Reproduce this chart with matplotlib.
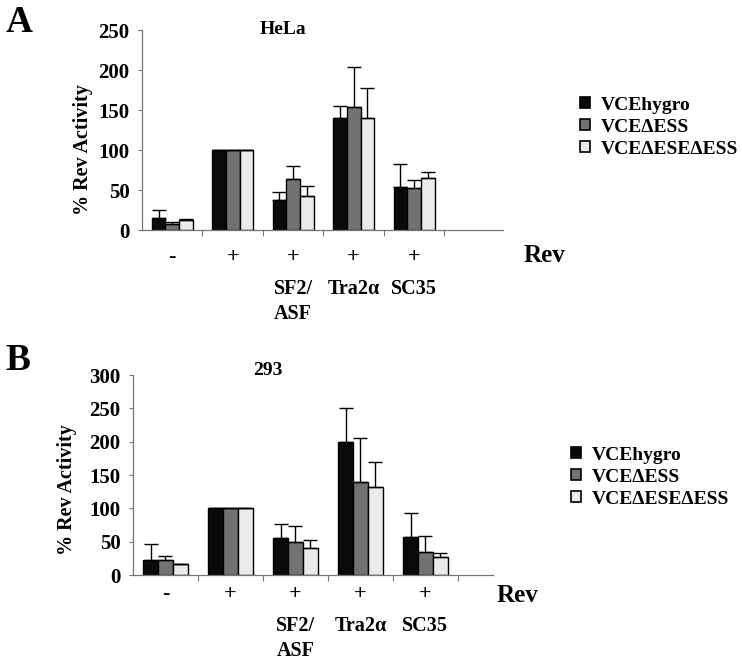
import matplotlib.pyplot as plt
from matplotlib.patches import Patch

plt.rcParams['font.family'] = ['Liberation Serif', 'DejaVu Serif']
plt.rcParams['font.weight'] = 'bold'

# data
categories = ['-', '+', '+', '+', '+']
factors = ['', '', 'SF2/\nASF', 'Tra2\u03b1', 'SC35']
series = ['VCEhygro', 'VCE\u0394ESS', 'VCE\u0394ESE\u0394ESS']
colors = ['#0a0a0a', '#727272', '#ebebeb']

hela_hygro = [15, 100, 38, 140, 54]
hela_dess = [8, 100, 64, 154, 53]
hela_desedess = [13, 100, 43, 140, 65]
hela_hygro_err = [10, 0, 9, 15, 28]
hela_dess_err = [2, 0, 16, 50, 10]
hela_desedess_err = [1, 0, 12, 38, 8]

c293_hygro = [23, 100, 56, 200, 57]
c293_dess = [23, 100, 50, 139, 34]
c293_desedess = [16, 100, 40, 132, 27]
c293_hygro_err = [24, 0, 21, 50, 36]
c293_dess_err = [6, 0, 24, 67, 24]
c293_desedess_err = [0, 0, 12, 38, 6]

fig = plt.figure(figsize=(7.42, 6.64), dpi=100)


def panel(rect, vals, errs, ymax, title, title_xy, letter_xy, letter, rev_xy, xmax,
          legend_xy, ylabel_xy, sign_off, factor_off):
    ax = fig.add_axes(rect)
    w = 0.227
    x = range(len(categories))
    for i in range(3):
        xs = [k + (i - 1) * w for k in x]
        ax.bar(xs, vals[i], width=w, color=colors[i], edgecolor='black', linewidth=1.0, zorder=2)
        lo = [0] * len(errs[i])
        ax.errorbar(xs, vals[i], yerr=[lo, errs[i]], fmt='none', ecolor='black',
                    elinewidth=1.0, capsize=5, capthick=1.0, zorder=3)
    ax.set_xlim(-0.5, xmax)
    ax.set_ylim(0, ymax)
    ax.set_yticks(range(0, ymax + 1, 50))
    ax.tick_params(axis='y', labelsize=15, length=3, color='#777777', pad=6)
    ax.set_xticks([k + 0.5 for k in range(len(categories))])
    ax.set_xticklabels([])
    ax.tick_params(axis='x', length=4, color='#777777', direction='out')
    for s in ['top', 'right']:
        ax.spines[s].set_visible(False)
    for s in ['left', 'bottom']:
        ax.spines[s].set_color('#777777')
        ax.spines[s].set_linewidth(0.9)
    ax.set_ylabel('% Rev Activity', fontsize=14.5, fontweight='bold')
    ax.yaxis.set_label_coords(*ylabel_xy)
    for k in x:
        ax.annotate(categories[k], xy=(k, 0), xycoords=('data', 'axes fraction'),
                    xytext=(0, -sign_off), textcoords='offset pixels',
                    ha='center', va='center', fontsize=16)
        if factors[k]:
            ax.annotate(factors[k], xy=(k, 0), xycoords=('data', 'axes fraction'),
                        xytext=(0, -factor_off), textcoords='offset pixels',
                        ha='center', va='top', fontsize=14.5, linespacing=1.35)
    fig.text(title_xy[0], title_xy[1], title, ha='center', va='center', fontsize=14)
    fig.text(letter_xy[0], letter_xy[1], letter, ha='center', va='center', fontsize=27)
    fig.text(rev_xy[0], rev_xy[1], 'Rev', ha='left', va='center', fontsize=18)
    handles = [Patch(facecolor=c, edgecolor='black', linewidth=1.2) for c in colors]
    fig.legend(handles, series, loc='upper left', bbox_to_anchor=legend_xy, frameon=False,
               fontsize=14, handlelength=0.5, handleheight=0.5, handletextpad=0.6,
               labelspacing=0.25, borderaxespad=0)
    return ax


panel([0.1914, 0.6536, 0.4865, 0.3012],
      [hela_hygro, hela_dess, hela_desedess],
      [hela_hygro_err, hela_dess_err, hela_desedess_err],
      250, 'HeLa', (283 / 742, 1 - 30 / 664), (19 / 742, 1 - 22 / 664), 'A',
      (524 / 742, 1 - 256 / 664), 5.47, (572 / 742, 1 - 89 / 664),
      (-0.135, 0.40), 27, 49)

panel([0.1792, 0.134, 0.4852, 0.3012],
      [c293_hygro, c293_dess, c293_desedess],
      [c293_hygro_err, c293_dess_err, c293_desedess_err],
      300, '293', (268 / 742, 1 - 370 / 664), (18 / 742, 1 - 361 / 664), 'B',
      (497 / 742, 1 - 595 / 664), 5.04, (563 / 742, 1 - 439 / 664),
      (-0.155, 0.425), 19, 41)

fig.savefig('out.png', dpi=100)
